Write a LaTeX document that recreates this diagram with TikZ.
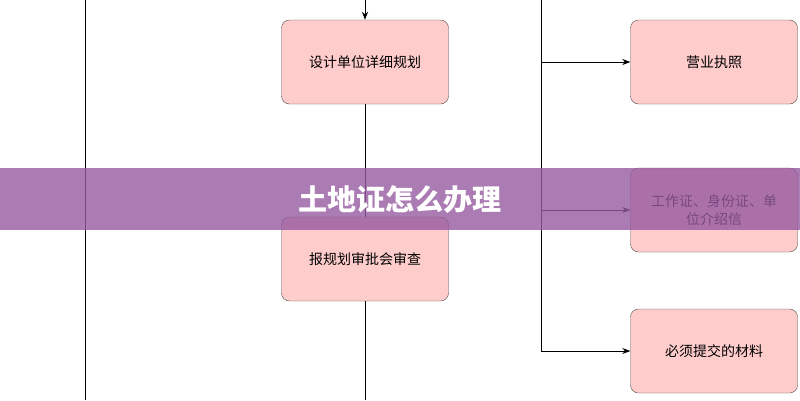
\documentclass[tikz,border=0pt]{standalone}
\usepackage{fontspec}
\setmainfont{Noto Sans CJK SC}
\usetikzlibrary{arrows.meta}
\definecolor{boxfill}{RGB}{255,204,204}
\definecolor{band}{RGB}{150,90,160}
\tikzset{
  procbox/.style={draw=black!70,fill=boxfill,rounded corners=8pt,minimum width=167pt,
    minimum height=84pt,text width=150pt,align=center,font=\fontsize{14}{18}\selectfont},
  flow/.style={-{Stealth[length=8pt,width=6pt]},line width=0.8pt},
}
\begin{document}
\begin{tikzpicture}[x=1pt,y=-1pt]
  \useasboundingbox (0,0) rectangle (800,400);
  \draw[line width=0.8pt] (85,0) -- (85,400);

  \node[procbox] (plan) at (365,62) {设计单位详细规划};
  \node[procbox] (check) at (365,259) {报规划审批会审查};
  \coordinate (top) at (365,0);
  \coordinate (bottom) at (365,400);
  \draw[flow] (top) -- (plan);
  \draw[line width=0.8pt] (plan) -- (check);
  \draw[line width=0.8pt] (check) -- (bottom);

  \node[procbox] (license) at (714,62) {营业执照};
  \node[procbox] (ids) at (714,210) {工作证、身份证、单\\位介绍信};
  \node[procbox] (docs) at (714,351) {必须提交的材料};
  \coordinate (ltop) at (541,0);
  \coordinate (lbot) at (541,351);
  \draw[line width=0.8pt] (ltop) -- (lbot);
  \draw[flow] (ltop |- license) -- (license);
  \draw[flow] (ltop |- ids) -- (ids);
  \draw[flow] (lbot) -- (docs);

  % banner
  \fill[band,opacity=0.8] (0,168) rectangle (800,230);
  \node[text=white,font=\fontsize{29}{32}\selectfont\bfseries] (title) at (400,200) {土地证怎么办理};
\end{tikzpicture}
\end{document}
